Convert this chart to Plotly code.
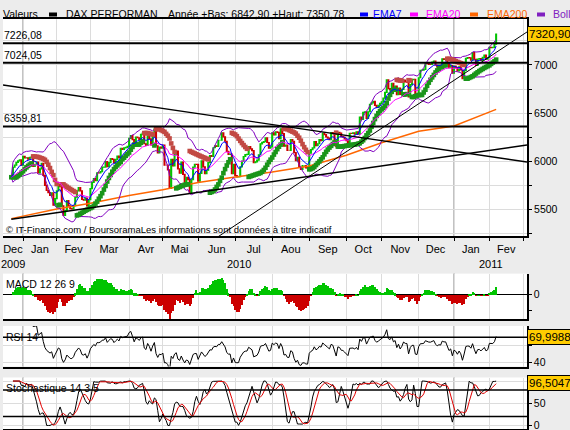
import numpy as np
import pandas as pd
import plotly.graph_objects as go

# ------------------------------------------------------------------ data
holidays = ["2009-12-24", "2009-12-25", "2009-12-31", "2010-01-01",
            "2010-04-02", "2010-04-05", "2010-12-24", "2010-12-31"]

close_2009_12 = [5831, 5935, 5957, 5985, 6002, 6011, 5957]
close_2010_01 = [6048, 6032, 6034, 6019, 6037, 6040, 5944, 5963, 5988, 5875,
                 5919, 5976, 5851, 5747, 5695, 5670, 5643, 5668, 5540, 5608]
close_2010_02 = [5690, 5757, 5733, 5533, 5434, 5484, 5587, 5532, 5504, 5500,
                 5536, 5623, 5688, 5722, 5688, 5601, 5592, 5615, 5532, 5598]
close_2010_03 = [5713, 5776, 5817, 5795, 5877, 5875, 5890, 5936, 5937, 5995,
                 5940, 5984, 6025, 6018, 5982, 6017, 6051, 6034, 6132, 6120,
                 6136, 6142, 6153]
close_2010_04 = [6235, 6264, 6222, 6171, 6250, 6242, 6226, 6278, 6291, 6180,
                 6162, 6265, 6230, 6168, 6259, 6332, 6159, 6085, 6146, 6135]
close_2010_05 = [6166, 5958, 5958, 5908, 5715, 6018, 5950, 6067, 6104, 5919,
                 5873, 5988, 5860, 5757, 5830, 5806, 5670, 5805, 5937, 5965,
                 5964]
close_2010_06 = [5790, 5870, 6001, 5939, 5869, 5904, 5984, 6057, 6049, 6138,
                 6158, 6151, 6216, 6216, 6293, 6252, 6206, 6101, 6070, 6071,
                 5869, 5965]
close_2010_07 = [5847, 5834, 5837, 5938, 5999, 6047, 6066, 6069, 6150, 6127,
                 6108, 5983, 5992, 6009, 6065, 6179, 6195, 6201, 6240, 6193,
                 6134, 6148]
close_2010_08 = [6292, 6271, 6304, 6298, 6233, 6335, 6286, 6154, 6165, 6111,
                 6111, 6224, 6206, 6087, 6005, 6037, 5935, 5913, 5951, 5951,
                 5927, 5925]
close_2010_09 = [6083, 6119, 6136, 6203, 6160, 6180, 6222, 6213, 6291, 6274,
                 6250, 6238, 6222, 6295, 6285, 6208, 6150, 6299, 6291, 6253,
                 6250, 6229]
close_2010_10 = [6211, 6183, 6288, 6287, 6292, 6281, 6304, 6281, 6457, 6433,
                 6507, 6511, 6444, 6513, 6591, 6606, 6622, 6579, 6559, 6579,
                 6601]
close_2010_11 = [6616, 6654, 6714, 6845, 6754, 6743, 6808, 6752, 6780, 6692,
                 6760, 6694, 6746, 6842, 6823, 6822, 6667, 6796, 6848, 6850,
                 6697, 6688]
close_2010_12 = [6867, 6945, 6947, 6955, 7026, 7015, 7007, 7006, 7030, 7040,
                 7000, 6980, 7000, 6996, 7065, 7057, 7058, 7006, 6972, 6993,
                 6914]
close_2011_01 = [6989, 6975, 6939, 6981, 6948, 6857, 6940, 7068, 7076, 7075,
                 7050, 7130, 7060, 6995, 7062, 7067, 7047, 7080, 7102, 7060,
                 7077]
close_2011_02 = [7184, 7180, 7183, 7216, 7320.90]

first_day, last_day = "2009-12-18", "2011-02-07"

ema200_dates = ["2009-12-18", "2010-01-04", "2010-02-01", "2010-03-01", "2010-04-01",
                "2010-05-03", "2010-06-01", "2010-07-01", "2010-08-02", "2010-09-01",
                "2010-10-01", "2010-11-01", "2010-12-01", "2011-01-03", "2011-02-07"]
ema200_values = [5400, 5427, 5500, 5560, 5640, 5700, 5775, 5833, 5885, 5948,
                 6060, 6190, 6310, 6364, 6538]

axis_start, axis_end = "2009-12-11 02:00", "2011-03-03 08:00"

trend_a_dates = [axis_start, axis_end]
trend_a_values = [6792, 5990]
trend_b_dates = ["2009-12-18", axis_end]
trend_b_values = [5394, 6167]
trend_c_dates = ["2010-06-16 19:00", axis_end]
trend_c_values = [5211, 7344]

levels = [7226.08, 7024.05, 6359.81]

last_close = 7320.90
last_rsi = 69.9988
last_stoch = 96.5047
year_low, year_high = 6842.90, 7350.78

month_names = ["Jan", "Fev", "Mar", "Avr", "Mai", "Jun", "Jul", "Aou", "Sep", "Oct", "Nov", "Dec"]
price_ticks = [5250, 5500, 5750, 6000, 6250, 6500, 6750, 7000, 7250]

# ------------------------------------------------------------------ derived series
close = (close_2009_12 + close_2010_01 + close_2010_02 + close_2010_03 + close_2010_04 +
         close_2010_05 + close_2010_06 + close_2010_07 + close_2010_08 + close_2010_09 +
         close_2010_10 + close_2010_11 + close_2010_12 + close_2011_01 + close_2011_02)
hol = set(pd.to_datetime(holidays))
dates = [d for d in pd.bdate_range(first_day, last_day) if d not in hol]
assert len(dates) == len(close), (len(dates), len(close))

s = pd.Series(close, index=dates, dtype=float)
opn = s.shift(1).fillna(s.iloc[0])
hi = np.maximum(opn, s)
lo = np.minimum(opn, s)

ema7 = s.ewm(span=7, adjust=False).mean()
ema20 = s.ewm(span=20, adjust=False).mean()
mid = s.rolling(20, min_periods=1).mean()
sd = s.rolling(20, min_periods=1).std(ddof=0)
bb_up, bb_lo = mid + 2 * sd, mid - 2 * sd

macd = s.ewm(span=12, adjust=False).mean() - s.ewm(span=26, adjust=False).mean()
hist = macd - macd.ewm(span=9, adjust=False).mean()

diff = s.diff()
gain = diff.clip(lower=0).ewm(alpha=1 / 14, adjust=False, min_periods=6).mean()
loss = (-diff.clip(upper=0)).ewm(alpha=1 / 14, adjust=False, min_periods=6).mean()
rsi = 100 - 100 / (1 + gain / loss)

ll = lo.rolling(14, min_periods=1).min()
hh = hi.rolling(14, min_periods=1).max()
k_raw = 100 * (s - ll) / (hh - ll).replace(0, np.nan)
stoch_k = k_raw.rolling(3, min_periods=1).mean()
stoch_d = stoch_k.rolling(5, min_periods=1).mean()


def psar(h, l, step=0.02, amax=0.2):
    h, l = np.asarray(h, float), np.asarray(l, float)
    n = len(h)
    out = np.zeros(n)
    up = np.zeros(n, bool)
    bull, af, ep = True, step, h[0]
    out[0], up[0] = l[0], True
    for i in range(1, n):
        v = out[i - 1] + af * (ep - out[i - 1])
        if bull:
            v = min(v, l[i - 1], l[max(i - 2, 0)])
            if l[i] < v:
                bull, v, ep, af = False, ep, l[i], step
            elif h[i] > ep:
                ep, af = h[i], min(af + step, amax)
        else:
            v = max(v, h[i - 1], h[max(i - 2, 0)])
            if h[i] > v:
                bull, v, ep, af = True, ep, h[i], step
            elif l[i] < ep:
                ep, af = l[i], min(af + step, amax)
        out[i], up[i] = v, bull
    return out, up


sar, sar_up = psar(hi, lo)

# calendar for axis labelling
cal = pd.Series([d for d in pd.bdate_range(axis_start[:10], axis_end[:10]) if d not in hol])
groups = list(cal.groupby([cal.dt.year, cal.dt.month]))
month_starts = [g.iloc[0].strftime("%Y-%m-%d") for _, g in groups[1:]]
month_mid, month_txt = [], []
for (yy, mm), g in groups:
    if len(g) >= 5:
        month_mid.append(g.iloc[len(g) // 2].strftime("%Y-%m-%d"))
        month_txt.append(month_names[mm - 1])
ygroups = list(cal.groupby(cal.dt.year))
year_mid = [(str(yy), g.iloc[len(g) // 2].strftime("%Y-%m-%d")) for yy, g in ygroups]
year_starts = [g.iloc[0].strftime("%Y-%m-%d") for _, g in ygroups[1:]]

# ------------------------------------------------------------------ layout helpers
W, H = 570, 430
ML, MR, MT, MB = 3, 43, 19, 1
PW, PH = W - ML - MR, H - MT - MB


def fy(px):
    return (H - MB - px) / PH


def fx(px):
    return (px - ML) / PW


def fr(v, nd=2):
    return f"{v:.{nd}f}".replace(".", ",")


FONT = "Liberation Sans, Arial, sans-serif"
GRID = "#dcdcdc"
GREEN, RED = "#00c400", "#cc0000"

fig = go.Figure()

# main panel
fig.add_trace(go.Scatter(x=ema200_dates, y=ema200_values, mode="lines",
                         line=dict(color="#ff6600", width=1.5)))
fig.add_trace(go.Scatter(x=dates, y=bb_up, mode="lines", line=dict(color="#8000c0", width=1)))
fig.add_trace(go.Scatter(x=dates, y=bb_lo, mode="lines", line=dict(color="#8000c0", width=1)))
fig.add_trace(go.Candlestick(x=dates, open=opn, high=hi, low=lo, close=s, whiskerwidth=0,
                             increasing=dict(line=dict(color=GREEN, width=1.2), fillcolor=GREEN),
                             decreasing=dict(line=dict(color=RED, width=1.2), fillcolor=RED)))
fig.add_trace(go.Scatter(x=dates, y=sar, mode="markers",
                         marker=dict(symbol="square", size=4.6,
                                     color=["#1a951a" if u else "#c24a44" for u in sar_up],
                                     line=dict(width=0))))
fig.add_trace(go.Scatter(x=dates, y=ema20, mode="lines", line=dict(color="#ff00ff", width=1)))
fig.add_trace(go.Scatter(x=dates, y=ema7, mode="lines", line=dict(color="#0000ff", width=1)))
for td, tv, w in [(trend_a_dates, trend_a_values, 1.4), (trend_b_dates, trend_b_values, 1.4),
                  (trend_c_dates, trend_c_values, 1)]:
    fig.add_trace(go.Scatter(x=td, y=tv, mode="lines", line=dict(color="black", width=w)))

# MACD
fig.add_trace(go.Bar(x=dates, y=hist, xaxis="x2", yaxis="y2",
                     marker=dict(color=[GREEN if v >= 0 else RED for v in hist], line=dict(width=0)),
                     width=0.6 * 86400000))
# RSI
fig.add_trace(go.Scatter(x=dates, y=rsi, xaxis="x3", yaxis="y3", mode="lines",
                         line=dict(color="black", width=1)))
# Stochastic
fig.add_trace(go.Scatter(x=dates, y=stoch_k, xaxis="x4", yaxis="y4", mode="lines",
                         line=dict(color="black", width=1)))
fig.add_trace(go.Scatter(x=dates, y=stoch_d, xaxis="x4", yaxis="y4", mode="lines",
                         line=dict(color="#e00000", width=1)))

rb = [dict(bounds=["sat", "mon"]), dict(values=holidays)]


def xax(anchor, main=False):
    d = dict(type="date", range=[axis_start, axis_end], rangebreaks=rb, anchor=anchor,
             showgrid=False, zeroline=False, showline=True, linecolor="black",
             linewidth=2 if main else 1.5,
             minor=dict(tickmode="array", tickvals=month_starts, showgrid=True,
                        gridcolor=GRID, gridwidth=1,
                        ticks="outside" if main else "", ticklen=3, tickcolor="black"),
             rangeslider=dict(visible=False))
    if main:
        d.update(mirror=True, tickmode="array", tickvals=month_mid, ticktext=month_txt,
                 ticks="", tickfont=dict(size=11), ticklabelstandoff=2)
    else:
        d.update(matches="x", showticklabels=False, ticks="")
    return d


macd_top = float(hist.max()) * 21.1 / 16.7
macd_bot = -macd_top * 24.7 / 21.1

yax_common = dict(side="right", ticks="outside", ticklen=3, tickcolor="black", showline=True,
                  linecolor="black", tickfont=dict(size=10.5), tickmode="array",
                  ticklabeloverflow="allow")

fig.update_layout(
    width=W, height=H,
    margin=dict(l=ML, r=MR, t=MT, b=MB, autoexpand=False),
    paper_bgcolor="#ececec", plot_bgcolor="white",
    showlegend=False, bargap=0,
    font=dict(family=FONT, size=11, color="black"),
    xaxis=xax("y", True),
    xaxis2=xax("y2"), xaxis3=xax("y3"), xaxis4=xax("y4"),
    yaxis=dict(**yax_common, domain=[fy(236), 1], range=[5219, 7479], anchor="x",
               tickvals=price_ticks, ticktext=[str(v) if v % 500 == 0 else "" for v in price_ticks],
               showgrid=True, gridcolor=GRID, linewidth=2, zeroline=False),
    yaxis2=dict(**yax_common, domain=[fy(319.4), fy(273.6)], range=[macd_bot, macd_top], anchor="x2",
                tickvals=[macd_bot * 0.65, 0], ticktext=["", "0"], showgrid=False, linewidth=1.5,
                zeroline=True, zerolinecolor="black", zerolinewidth=1),
    yaxis3=dict(**yax_common, domain=[fy(366.5), fy(326)], range=[35.4, 83.2], anchor="x3",
                tickvals=[40, 60], ticktext=["40", ""], showgrid=True, gridcolor=GRID,
                linewidth=1.5, zeroline=False),
    yaxis4=dict(**yax_common, domain=[0, fy(377.5)], range=[-8, 108], anchor="x4",
                tickvals=[0, 50, 100], ticktext=["0", "50", ""], showgrid=True, gridcolor=GRID,
                linewidth=1.5, zeroline=False),
)

shapes = []
for xr, yr in [("x", "y"), ("x2", "y2"), ("x3", "y3"), ("x4", "y4")]:
    for ys in year_starts:
        shapes.append(dict(type="line", xref=xr, yref=yr + " domain", x0=ys, x1=ys, y0=0, y1=1,
                           line=dict(color="#a8a8a8", width=1.5), layer="below"))
for lv in levels:
    shapes.append(dict(type="line", xref="x domain", yref="y", x0=0, x1=1, y0=lv, y1=lv,
                       line=dict(color="black", width=2)))
shapes.append(dict(type="line", xref="x3 domain", yref="y3", x0=0, x1=1, y0=70, y1=70,
                   line=dict(color="black", width=1.5)))
for lv in (20, 80):
    shapes.append(dict(type="line", xref="x4 domain", yref="y4", x0=0, x1=1, y0=lv, y1=lv,
                       line=dict(color="black", width=1.5)))

# header legend
hy = fy(14)
legend_items = [(49, "black", None, None), (360, "#0000ff", "EMA7", 372),
                (410, "#ff00ff", "EMA20", 425), (470, "#ff6600", "EMA200", 486),
                (537, "#8020c0", "Boll", 552)]
ann = []
for x0, col, txt, tx in legend_items:
    shapes.append(dict(type="rect", xref="paper", yref="paper", x0=fx(x0), x1=fx(x0 + 8),
                       y0=fy(16.5), y1=fy(12.5), fillcolor=col, line=dict(width=0)))
    if txt:
        ann.append(dict(text=txt, x=fx(tx - 1), y=hy, xanchor="left", font=dict(color=col, size=10.5)))
ann.append(dict(text="Valeurs", x=fx(1), y=hy, xanchor="left", font=dict(size=10.5)))
ann.append(dict(text="DAX PERFORMAN", x=fx(64), y=hy, xanchor="left", font=dict(size=10.5)))
ann.append(dict(text=f"Année +Bas: {fr(year_low)} +Haut: {fr(year_high)}", x=fx(166), y=hy,
                xanchor="left", font=dict(size=10.5)))
for a in ann:
    a.update(xref="paper", yref="paper", yanchor="middle", showarrow=False)

for lv in levels:
    ann.append(dict(text=fr(lv), xref="paper", yref="y", x=fx(2), y=lv, xanchor="left",
                    yanchor="bottom", showarrow=False, font=dict(size=10.5)))

ann.append(dict(text="© IT-Finance.com / BoursoramaLes informations sont données à titre indicatif",
                xref="paper", yref="paper", x=fx(4), y=fy(229), xanchor="left", yanchor="middle",
                showarrow=False, font=dict(size=9.5)))

for yy, xd in year_mid:
    ann.append(dict(text=yy, xref="x", yref="paper", x=xd, y=fy(264), yanchor="middle",
                    showarrow=False, font=dict(size=11)))

for txt, ypx in [("MACD 12 26 9", 284), ("RSI 14", 337), ("Stochastique 14 3 5", 388)]:
    ann.append(dict(text=txt, xref="paper", yref="paper", x=fx(4), y=fy(ypx), xanchor="left",
                    yanchor="middle", showarrow=False, font=dict(size=10.5)))

for txt, yr, yv in [(fr(last_close), "y", last_close), (fr(last_rsi, 4), "y3", last_rsi),
                    (fr(last_stoch, 4), "y4", last_stoch)]:
    ann.append(dict(text=txt, xref="paper", yref=yr, x=1, y=yv, xanchor="left", yanchor="middle",
                    showarrow=False, bgcolor="#ffcc00", bordercolor="black", borderwidth=1,
                    borderpad=1, font=dict(size=11.5)))

fig.update_layout(shapes=shapes, annotations=ann)
fig.write_html("out.html")
